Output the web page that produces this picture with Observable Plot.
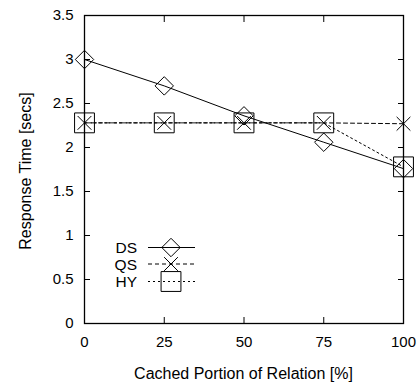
<!DOCTYPE html>
<html>
<head>
<meta charset="utf-8">
<script src="https://cdn.jsdelivr.net/npm/d3@7"></script>
<script src="https://cdn.jsdelivr.net/npm/@observablehq/plot@0.6"></script>
<style>
  html, body { margin: 0; padding: 0; background: #fff; }
  #chart { width: 417px; height: 386px; }
</style>
</head>
<body>
<div id="chart"></div>
<script>
const xValues = [0, 25, 50, 75, 100];
const dsValues = [3.0, 2.7, 2.36, 2.06, 1.76];
const qsValues = [2.28, 2.28, 2.28, 2.28, 2.27];
const hyValues = [2.28, 2.28, 2.28, 2.28, 1.78];
const xTicks = [0, 25, 50, 75, 100];
const yTicks = [0, 0.5, 1, 1.5, 2, 2.5, 3, 3.5];
const seriesNames = ["DS", "QS", "HY"];

const toRows = (vals) => xValues.map((x, i) => ({x, y: vals[i]}));
const ds = toRows(dsValues), qs = toRows(qsValues), hy = toRows(hyValues);

const FONT = "'Liberation Sans', Arial, Helvetica, sans-serif";
const styles = {
  DS: {dash: null, symbol: "diamond2", r: 8.3},
  QS: {dash: "4,3", symbol: "times", r: 6.3},
  HY: {dash: "2,3", symbol: "square", r: 11.2}
};

const plot = Plot.plot({
  width: 417,
  height: 386,
  marginLeft: 84,
  marginRight: 14,
  marginTop: 15,
  marginBottom: 63,
  style: {fontFamily: FONT, fontSize: "15px", background: "#fff", color: "#000"},
  x: {domain: [0, 100]},
  y: {domain: [0, 3.5]},
  marks: [
    // tick labels
    Plot.axisY(yTicks, {anchor: "left", tickSize: 0, tickPadding: 11, tickFormat: d => String(d), label: null, fontSize: 15}),
    Plot.axisX(xTicks, {anchor: "bottom", tickSize: 0, tickPadding: 13, tickFormat: d => String(d), label: null, fontSize: 15}),
    // inward ticks
    Plot.axisY(yTicks, {anchor: "left", tickSize: -6, fill: "none", label: null, stroke: "#000"}),
    Plot.axisY(yTicks, {anchor: "right", tickSize: -6, fill: "none", label: null, stroke: "#000"}),
    Plot.axisX(xTicks, {anchor: "bottom", tickSize: -6, fill: "none", label: null, stroke: "#000"}),
    Plot.axisX(xTicks, {anchor: "top", tickSize: -6, fill: "none", label: null, stroke: "#000"}),
    // lines
    Plot.line(hy, {x: "x", y: "y", stroke: "#000", strokeWidth: 1, strokeDasharray: styles.HY.dash}),
    Plot.line(qs, {x: "x", y: "y", stroke: "#000", strokeWidth: 1, strokeDasharray: styles.QS.dash}),
    Plot.line(ds, {x: "x", y: "y", stroke: "#000", strokeWidth: 1}),
    // markers
    Plot.dot(ds, {x: "x", y: "y", symbol: styles.DS.symbol, r: styles.DS.r, stroke: "#000", fill: "none", strokeWidth: 1}),
    Plot.dot(qs, {x: "x", y: "y", symbol: styles.QS.symbol, r: styles.QS.r, stroke: "#000", fill: "none", strokeWidth: 1}),
    Plot.dot(hy, {x: "x", y: "y", symbol: styles.HY.symbol, r: styles.HY.r, stroke: "#000", fill: "none", strokeWidth: 1}),
    Plot.frame({stroke: "#000", strokeWidth: 1.3})
  ]
});

const svg = d3.select(plot);
// axis titles
svg.append("text")
  .attr("x", 243.5).attr("y", 373)
  .attr("text-anchor", "middle").attr("dominant-baseline", "central")
  .attr("font-family", FONT).attr("font-size", 16)
  .text("Cached Portion of Relation [%]");
svg.append("text")
  .attr("transform", "translate(25,171) rotate(-90)")
  .attr("text-anchor", "middle").attr("dominant-baseline", "central")
  .attr("font-family", FONT).attr("font-size", 16)
  .text("Response Time [secs]");

// legend
const legendY = [247.5, 264, 281.5];
const legend = svg.append("g");
seriesNames.forEach((name, i) => {
  const st = styles[name];
  const y = legendY[i];
  legend.append("text")
    .attr("x", 137).attr("y", y)
    .attr("text-anchor", "end").attr("dominant-baseline", "central")
    .attr("font-family", FONT).attr("font-size", 15.5)
    .text(name);
  legend.append("line")
    .attr("x1", 148).attr("x2", 195).attr("y1", y).attr("y2", y)
    .attr("stroke", "#000").attr("stroke-width", 1)
    .attr("stroke-dasharray", st.dash);
  const sym = {diamond2: d3.symbolDiamond2, times: d3.symbolX, square: d3.symbolSquare}[st.symbol];
  legend.append("path")
    .attr("transform", `translate(171,${y})`)
    .attr("d", d3.symbol(sym, st.r * st.r * Math.PI)())
    .attr("fill", "none").attr("stroke", "#000").attr("stroke-width", 1);
});

document.getElementById("chart").appendChild(plot);
</script>
</body>
</html>
